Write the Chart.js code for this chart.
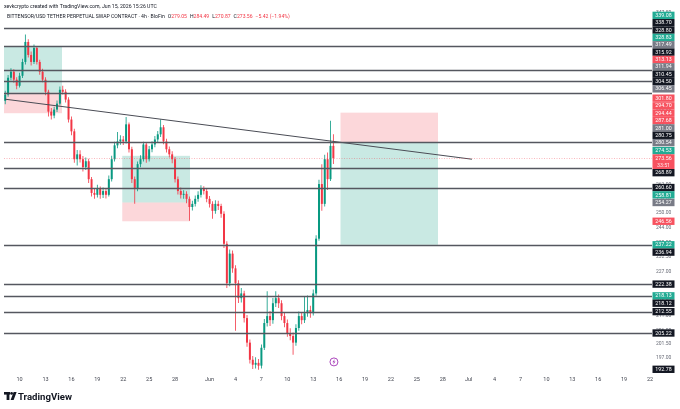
<!DOCTYPE html>
<html>
<head>
<meta charset="utf-8">
<script src="https://cdn.jsdelivr.net/npm/chart.js@4/dist/chart.umd.min.js"></script>
<style>
  html, body { margin: 0; padding: 0; background: #fff; overflow: hidden; }
  #wrap { position: relative; width: 680px; height: 409px; }
</style>
</head>
<body>
<div id="wrap"><canvas id="chart" width="680" height="409"></canvas></div>
<script>
// 8h candles, first one on May 8 08:00 (day 0 = May 10 00:00)
const firstCandleDay = -5 / 3;
const firstOpen = 300.5;
const closes = [
    303.6, 312.1, 315.2, 311.1, 308.0, 313.1, 320.3, 331.0, 324.0, 320.3,
    327.7, 320.3, 315.2, 311.1, 305.0, 295.2, 293.3, 296.2, 299.1, 306.0,
    305.0, 301.1, 291.4, 285.8, 273.0, 275.2, 273.0, 269.5, 272.1, 264.2,
    258.3, 257.5, 260.0, 257.5, 259.1, 257.5, 264.2, 273.0, 279.3, 281.1,
    282.0, 281.1, 289.1, 277.5, 264.2, 260.0, 270.8, 273.0, 279.7, 273.0,
    277.5, 279.7, 282.0, 284.4, 287.7, 281.1, 277.5, 275.2, 273.0, 264.2,
    259.1, 257.5, 257.9, 255.8, 252.4, 253.7, 255.8, 257.5, 260.0, 259.1,
    255.8, 253.7, 250.8, 253.7, 252.8, 249.6, 237.6, 222.7, 233.8, 228.2,
    222.7, 217.3, 219.0, 210.3, 202.0, 196.4, 194.8, 195.4, 194.5, 200.3,
    208.6, 211.0, 209.6, 215.5, 217.3, 215.5, 211.0, 208.6, 205.2, 204.2,
    202.0, 206.9, 211.0, 209.6, 212.0, 213.1, 212.0, 219.0, 239.6, 262.1,
    253.7, 273.0, 264.2, 279.05, 273.56
];
const highs = [
    305.5, 313.5, 317.0, 316.5, 312.4, 314.6, 322.0, 335.0, 332.5, 325.8,
    329.6, 328.8, 321.5, 316.7, 312.3, 306.0, 297.0, 297.6, 300.6, 307.6,
    308.0, 306.2, 302.3, 292.8, 287.0, 277.2, 277.0, 274.4, 273.8, 273.2,
    265.2, 260.0, 261.8, 261.0, 260.6, 260.4, 265.8, 274.6, 281.0, 285.5,
    284.0, 283.6, 292.6, 290.0, 278.6, 265.4, 272.0, 274.8, 281.0, 280.8,
    279.0, 281.2, 283.6, 286.0, 291.4, 288.8, 282.3, 278.8, 276.6, 274.0,
    265.4, 260.6, 259.4, 259.0, 256.8, 255.0, 257.2, 259.0, 261.6, 261.2,
    260.2, 257.0, 254.8, 255.2, 255.0, 253.8, 250.6, 238.6, 235.4, 235.0,
    229.4, 223.8, 221.0, 220.0, 211.4, 203.0, 197.6, 197.2, 196.6, 201.4,
    210.0, 219.8, 212.8, 217.4, 219.8, 218.6, 216.6, 212.2, 209.8, 206.8,
    205.4, 208.2, 212.6, 212.2, 217.8, 218.3, 214.6, 220.4, 241.0, 264.0,
    270.8, 275.0, 276.0, 290.8, 284.49
];
const lows = [
    298.8, 302.5, 310.8, 309.5, 306.2, 307.1, 312.0, 319.0, 322.6, 318.4,
    319.2, 319.0, 313.6, 309.8, 303.2, 292.8, 291.4, 292.0, 295.0, 298.2,
    303.6, 299.6, 290.0, 284.0, 271.4, 270.2, 271.5, 267.6, 268.2, 262.6,
    256.8, 255.8, 256.4, 255.8, 256.2, 256.0, 256.8, 263.2, 272.0, 278.0,
    279.6, 279.4, 280.2, 276.0, 262.6, 253.7, 259.0, 269.4, 272.0, 271.4,
    272.0, 276.2, 278.4, 280.8, 283.2, 279.8, 276.0, 273.8, 271.2, 262.8,
    257.6, 256.0, 255.8, 254.0, 246.8, 251.0, 252.6, 254.6, 256.4, 257.6,
    254.4, 252.2, 247.6, 249.6, 251.2, 248.0, 236.0, 221.0, 221.6, 226.6,
    206.0, 215.6, 215.8, 208.8, 200.6, 195.2, 193.4, 193.6, 193.2, 193.6,
    199.6, 207.4, 207.6, 208.4, 214.2, 213.8, 209.6, 207.2, 204.0, 202.8,
    198.0, 201.0, 206.0, 208.2, 208.6, 210.8, 210.4, 211.2, 218.2, 238.8,
    250.8, 252.6, 259.6, 263.4, 270.87
];

const xTickDays = [0, 3, 6, 9, 12, 15, 18, 22, 25, 28, 31, 34, 37, 40, 43, 46, 49, 52, 55, 58, 61, 64, 67, 70, 73];
const xTickLabels = ['10', '13', '16', '19', '22', '25', '28', 'Jun', '4', '7', '10', '13', '16', '19', '22', '25', '28', 'Jul', '4', '7', '10', '13', '16', '19', '22'];
const yTicks = [197, 201.5, 206, 211, 216.5, 222, 227, 232.5, 238, 244, 250, 256, 262, 268, 274.5, 281, 288, 295, 302, 309, 316.5, 324, 331.5, 339.5, 347.5];

const hLines = [338.70, 328.80, 315.92, 310.45, 304.50, 280.75, 268.89, 260.60, 236.94, 222.38, 218.12, 212.55, 205.22];

// long / short position tools: [target, entry, stop]
const boxDays = [[-1.81, 4.91], [11.89, 19.73], [37.16, 48.45]];
const boxPrices = [[328.80, 304.50, 294.44], [274.53, 254.27, 246.56], [237.22, 280.54, 294.70]];

const trendDays = [-1.69, 52.38];
const trendPrices = [301.3, 273.0];

const eventDay = 36.4;
const eventPrice = 195.7;

// price scale labels, top to bottom
const labelValues = [339.08, 338.70, 328.80, 328.83, 317.49, 315.92, 313.13, 311.94, 310.45, 304.50, 306.45, 301.80,
    294.70, 294.44, 287.68, 281.00, 280.75, 280.54, 274.53, 273.56, 268.89, 260.60, 258.81, 254.27, 246.56,
    237.22, 236.94, 222.38, 218.13, 218.12, 212.55, 205.22, 192.78];
const labelKinds = ['g', 'k', 'k', 'g', 'n', 'k', 'r', 'n', 'k', 'k', 'n', 'r', 'r', 'r', 'r', 'n', 'k', 'n', 'g', 'r',
    'k', 'k', 'g', 'n', 'r', 'g', 'k', 'k', 'g', 'k', 'k', 'k', 'k'];
const lastPriceLabel = 19;
const countdown = '33:51';

const headerLine = 'xevkcrypto created with TradingView.com, Jun 15, 2026 15:26 UTC';
const symbolLine = 'BITTENSOR/USD TETHER PERPETUAL SWAP CONTRACT · 4h · BloFin';
const ohlcParts = [['O', '279.05'], ['H', '284.49'], ['L', '270.87'], ['C', '273.56'], ['', '−5.42 (−1.94%)']];

const green = '#089981';
const red = '#f23645';
const kindColors = { k: '#131722', g: '#22ab94', r: '#f7525f', n: '#787b86' };
const font = 'Roboto, "Liberation Sans", sans-serif';

const candleDays = closes.map((_, i) => firstCandleDay + i / 3);
const opens = closes.map((c, i) => (i === 0 ? firstOpen : closes[i - 1]));
const candleColor = ctx => (closes[ctx.dataIndex] >= opens[ctx.dataIndex] ? green : red);

function placeLabels(targets) {
    const h = 7.35;
    const pos = targets.slice();
    const a = lastPriceLabel;
    for (let i = a - 1; i >= 0; i--) {
        pos[i] = Math.min(targets[i], pos[i + 1] - h);
    }
    for (let i = a + 1; i < targets.length; i++) {
        const gap = i - 1 === a ? 2 * h : h;
        pos[i] = Math.max(targets[i], pos[i - 1] + gap);
    }
    return pos;
}

const overlay = {
    id: 'overlay',
    beforeDatasetsDraw(chart) {
        const { ctx, chartArea: area, scales: { x, y } } = chart;
        ctx.save();
        ctx.beginPath();
        ctx.rect(area.left, area.top, area.right - area.left, area.bottom - area.top);
        ctx.clip();
        boxDays.forEach((days, i) => {
            const x0 = x.getPixelForValue(days[0]);
            const x1 = x.getPixelForValue(days[1]);
            const [target, entry, stop] = boxPrices[i].map(p => y.getPixelForValue(p));
            ctx.fillStyle = 'rgba(8,153,129,0.22)';
            ctx.fillRect(x0, Math.min(target, entry), x1 - x0, Math.abs(entry - target));
            ctx.fillStyle = 'rgba(242,54,69,0.2)';
            ctx.fillRect(x0, Math.min(stop, entry), x1 - x0, Math.abs(entry - stop));
        });
        ctx.restore();
    },
    afterDatasetsDraw(chart) {
        const { ctx, chartArea: area, scales: { x, y } } = chart;
        ctx.save();
        hLines.forEach(p => {
            const py = Math.round(y.getPixelForValue(p)) + 0.5;
            ctx.strokeStyle = '#55575f';
            ctx.lineWidth = 1.5;
            ctx.beginPath();
            ctx.moveTo(area.left, py);
            ctx.lineTo(area.right, py);
            ctx.stroke();
        });
        // last price line
        const ly = Math.round(y.getPixelForValue(closes[closes.length - 1])) + 0.5;
        ctx.strokeStyle = 'rgba(242,54,69,0.35)';
        ctx.lineWidth = 1;
        ctx.setLineDash([1, 1.5]);
        ctx.beginPath();
        ctx.moveTo(area.left, ly);
        ctx.lineTo(area.right, ly);
        ctx.stroke();
        ctx.setLineDash([]);
        // event marker
        const ex = x.getPixelForValue(eventDay);
        const ey = y.getPixelForValue(eventPrice);
        ctx.fillStyle = '#fff';
        ctx.strokeStyle = '#ab47bc';
        ctx.lineWidth = 1;
        ctx.beginPath();
        ctx.arc(ex, ey, 4, 0, Math.PI * 2);
        ctx.fill();
        ctx.stroke();
        ctx.fillStyle = '#ab47bc';
        ctx.beginPath();
        ctx.moveTo(ex + 0.8, ey - 2.8);
        ctx.lineTo(ex - 1.6, ey + 0.4);
        ctx.lineTo(ex - 0.1, ey + 0.4);
        ctx.lineTo(ex - 0.8, ey + 2.8);
        ctx.lineTo(ex + 1.6, ey - 0.5);
        ctx.lineTo(ex + 0.1, ey - 0.5);
        ctx.closePath();
        ctx.fill();
        ctx.restore();
    },
    afterDraw(chart) {
        const { ctx, chartArea: area, scales: { y } } = chart;
        ctx.save();
        // price scale labels
        const targets = labelValues.map(v => y.getPixelForValue(v));
        const pos = placeLabels(targets).map(p => Math.min(p, area.bottom - 3.7));
        const bx = area.right + 0.5;
        const bw = 22;
        ctx.textAlign = 'center';
        ctx.textBaseline = 'middle';
        labelValues.forEach((v, i) => {
            const h = i === lastPriceLabel ? 14.7 : 7.35;
            ctx.fillStyle = kindColors[labelKinds[i]];
            ctx.fillRect(bx, pos[i] - 3.675, bw, h);
            ctx.fillStyle = '#fff';
            ctx.font = '5.3px ' + font;
            ctx.fillText(v.toFixed(2), bx + bw / 2, pos[i] + 0.3);
            if (i === lastPriceLabel) {
                ctx.fillStyle = 'rgba(255,255,255,0.85)';
                ctx.fillText(countdown, bx + bw / 2, pos[i] + 7.6);
            }
        });
        // header
        ctx.textAlign = 'left';
        ctx.fillStyle = '#131722';
        ctx.font = '5.2px ' + font;
        ctx.fillText(headerLine, 4, 7);
        let tx = 7;
        ctx.font = '5.1px ' + font;
        ctx.fillText(symbolLine, tx, 17);
        tx += ctx.measureText(symbolLine).width + 3;
        ohlcParts.forEach(([k, val]) => {
            if (k) {
                ctx.fillStyle = '#131722';
                ctx.fillText(k, tx, 17);
                tx += ctx.measureText(k).width;
            }
            ctx.fillStyle = red;
            ctx.fillText(val, tx, 17);
            tx += ctx.measureText(val).width + 3;
        });
        // footer logo
        ctx.fillStyle = '#131722';
        ctx.fillRect(4, 392, 6, 2.6);
        ctx.fillRect(6.6, 392, 2.8, 8);
        ctx.beginPath();
        ctx.arc(11.6, 393.4, 1.4, 0, Math.PI * 2);
        ctx.fill();
        ctx.beginPath();
        ctx.moveTo(10.6, 400);
        ctx.lineTo(13.6, 392);
        ctx.lineTo(16.6, 392);
        ctx.lineTo(13.6, 400);
        ctx.closePath();
        ctx.fill();
        ctx.font = 'bold 9.6px ' + font;
        ctx.textBaseline = 'alphabetic';
        ctx.fillText('TradingView', 18, 400);
        ctx.restore();
    }
};

new Chart(document.getElementById('chart'), {
    type: 'bar',
    data: {
        datasets: [
            {
                label: 'wicks',
                data: candleDays.map((d, i) => ({ x: d, y: [lows[i], highs[i]] })),
                backgroundColor: candleColor,
                barThickness: 0.8,
                grouped: false,
                inflateAmount: 0,
                order: 3
            },
            {
                label: 'bodies',
                data: candleDays.map((d, i) => ({ x: d, y: [opens[i], closes[i]] })),
                backgroundColor: candleColor,
                barThickness: 2,
                minBarLength: 1,
                grouped: false,
                inflateAmount: 0,
                order: 2
            },
            {
                type: 'line',
                label: 'trend',
                data: trendDays.map((d, i) => ({ x: d, y: trendPrices[i] })),
                borderColor: '#4a4c55',
                borderWidth: 1,
                pointRadius: 0,
                order: 1
            }
        ]
    },
    options: {
        responsive: false,
        animation: false,
        events: [],
        layout: { padding: { left: 4, top: 0, right: 0, bottom: 0 } },
        plugins: { legend: { display: false }, tooltip: { enabled: false } },
        scales: {
            x: {
                type: 'linear',
                min: -1.806,
                max: 73.229,
                offset: false,
                grid: { display: false, drawTicks: false },
                border: { display: false },
                afterBuildTicks: s => { s.ticks = xTickDays.map(v => ({ value: v })); },
                afterFit: s => { s.height = 36; s.paddingLeft = 0; s.paddingRight = 0; },
                ticks: {
                    autoSkip: false,
                    maxRotation: 0,
                    padding: 3,
                    color: '#434651',
                    font: { size: 5.5, family: font },
                    callback: (v, i) => xTickLabels[i]
                }
            },
            y: {
                type: 'logarithmic',
                position: 'right',
                min: 192.17,
                max: 354.6,
                grid: { display: false, drawTicks: false },
                border: { display: false },
                afterBuildTicks: s => { s.ticks = yTicks.map(v => ({ value: v })); },
                afterFit: s => { s.width = 28; s.paddingTop = 0; s.paddingBottom = 0; },
                ticks: {
                    autoSkip: false,
                    padding: 4,
                    color: '#6a6d78',
                    font: { size: 5, family: font },
                    callback: v => Number(v).toFixed(2)
                }
            }
        }
    },
    plugins: [overlay]
});
</script>
</body>
</html>
